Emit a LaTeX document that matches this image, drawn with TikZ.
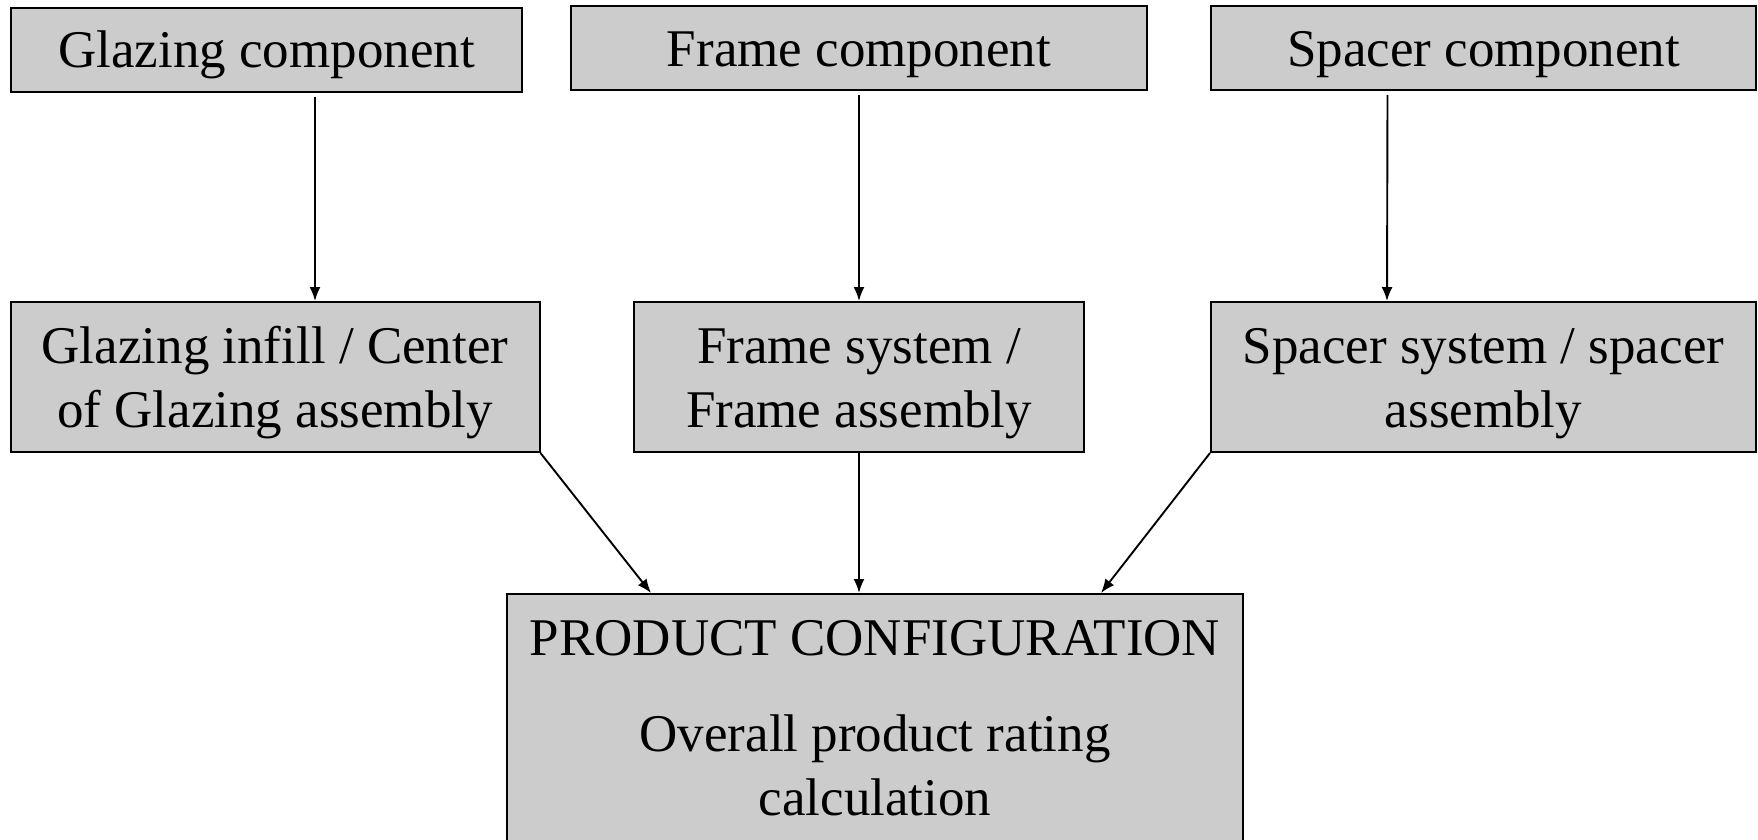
\documentclass[tikz,border=0pt]{standalone}
\usepackage{fontspec}
\setmainfont{Liberation Serif}
\usetikzlibrary{arrows.meta}
\newcommand{\tstrut}{\rule{0pt}{48pt}}

\begin{document}
\begin{tikzpicture}[x=1pt, y=-1pt]
\tikzstyle{box}=[rectangle, draw, fill=black!20, line width=2pt,
                 inner xsep=0pt, inner ysep=0pt, align=center,
                 font=\fontsize{53}{64}\selectfont]
\tikzstyle{arr}=[-{Latex[length=14pt, width=11pt]}, line width=1.9pt]
\useasboundingbox (0,0) rectangle (1758,839);
% components
\node[box, minimum width=511pt, minimum height=84pt] (gcomp) at (266.5,49.5) {\tstrut Glazing component};
\node[box, minimum width=576pt, minimum height=84pt] (fcomp) at (859,48) {\tstrut Frame component};
\node[box, minimum width=545pt, minimum height=84pt] (scomp) at (1483.5,48) {\tstrut Spacer component};
% assemblies
\node[box, minimum width=529pt, minimum height=150pt] (ginf) at (275,377) {\tstrut Glazing infill / Center\\of Glazing assembly};
\node[box, minimum width=450pt, minimum height=150pt] (fsys) at (859,377) {\tstrut Frame system /\\Frame assembly};
\node[box, minimum width=545pt, minimum height=150pt] (ssys) at (1483.5,377) {\tstrut Spacer system / spacer\\assembly};
% product
\node[box, minimum width=736pt, minimum height=249pt] (prod) at (875,718.5)
  {PRODUCT CONFIGURATION\\[32pt]Overall product rating\\calculation};
\draw[arr, shorten <=4pt] ([xshift=48.5pt]gcomp.south) -- ([xshift=40pt]ginf.north);
\draw[arr, shorten <=4pt] (fcomp.south) -- (fsys.north);
\draw[arr, shorten <=4pt] ([xshift=-96pt]scomp.south) -- ([xshift=-96.5pt]ssys.north);
\draw[arr] (ginf.south east) -- ([xshift=-224pt]prod.north);
\draw[arr] (fsys.south) -- (fsys.south |- prod.north);
\draw[arr] (ssys.south west) -- ([xshift=226pt]prod.north);
\end{tikzpicture}
\end{document}
